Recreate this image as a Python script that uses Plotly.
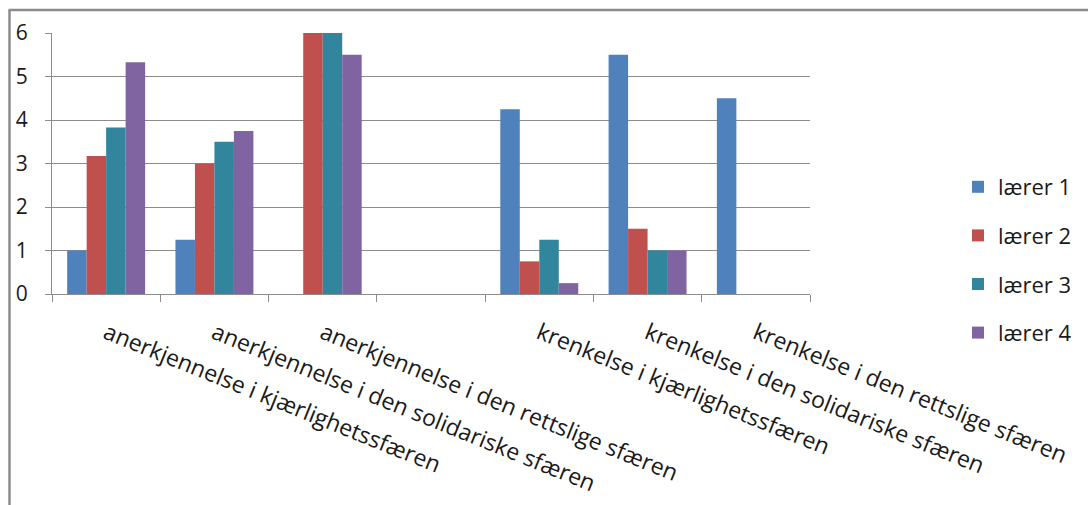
import plotly.graph_objects as go

categories = [
    "anerkjennelse i kjærlighetssfæren",
    "anerkjennelse i den solidariske sfæren",
    "anerkjennelse i den rettslige sfæren",
    " ",
    "krenkelse i kjærlighetssfæren",
    "krenkelse i den solidariske sfæren",
    "krenkelse i den rettslige sfæren",
]
series_names = ["lærer 1", "lærer 2", "lærer 3", "lærer 4"]
laerer1 = [1.0, 1.25, None, None, 4.25, 5.5, 4.5]
laerer2 = [3.17, 3.0, 6.0, None, 0.75, 1.5, None]
laerer3 = [3.83, 3.5, 6.0, None, 1.25, 1.0, None]
laerer4 = [5.33, 3.75, 5.5, None, 0.25, 1.0, None]
series_values = [laerer1, laerer2, laerer3, laerer4]
colors = ["#4F81BD", "#C0504D", "#31859C", "#8064A2"]
y_ticks = [0, 1, 2, 3, 4, 5, 6]

W, H = 1088, 505
ML, MR, MT, MB = 52, 278, 33, 211
FONT = "Open Sans"

fig = go.Figure()
for name, vals, col in zip(series_names, series_values, colors):
    fig.add_trace(go.Bar(
        x=categories, y=vals, name=name, legendgroup=name,
        marker=dict(color=col, line=dict(width=0)),
    ))

pw = W - ML - MR
ph = H - MT - MB
def px2x(p):
    return (p - ML) / pw
def py2y(p):
    return (H - MB - p) / ph

grey = "#8C8C8C"
fig.update_layout(
    width=W, height=H,
    margin=dict(l=ML, r=MR, t=MT, b=MB, pad=0, autoexpand=False),
    paper_bgcolor="white", plot_bgcolor="white",
    barmode="group", bargap=0.28, bargroupgap=0,
    font=dict(family=FONT, size=20, color="#1a1a1a"),
    showlegend=True,
    legend=dict(
        xref="container", yref="container",
        x=958 / W, xanchor="left", y=1 - 166 / H, yanchor="top",
        font=dict(family=FONT, size=22, color="#1a1a1a"),
        tracegroupgap=17, itemwidth=30, bgcolor="rgba(0,0,0,0)",
    ),
    xaxis=dict(
        type="category", categoryorder="array", categoryarray=categories,
        tickangle=22, ticks="outside", tickson="boundaries", ticklen=7,
        tickcolor=grey, showline=True, linecolor=grey, linewidth=1,
        showgrid=False, tickfont=dict(family=FONT, size=23, color="#1a1a1a"),
        ticklabelstandoff=16, automargin=False,
    ),
    yaxis=dict(
        range=[0, 6], tickvals=y_ticks, ticks="outside", ticklen=6,
        tickcolor=grey, showline=True, linecolor=grey, linewidth=1,
        showgrid=True, gridcolor=grey, gridwidth=1, zeroline=False,
        tickfont=dict(family=FONT, size=21, color="#1a1a1a"),
        ticklabelstandoff=13, automargin=False,
    ),
    shapes=[
        dict(type="line", xref="paper", yref="paper",
             x0=px2x(9.5), x1=px2x(9.5), y0=py2y(10), y1=py2y(H + 5),
             line=dict(color=grey, width=2.5)),
        dict(type="line", xref="paper", yref="paper",
             x0=px2x(8.5), x1=px2x(W + 5), y0=py2y(10), y1=py2y(10),
             line=dict(color=grey, width=2.5)),
    ],
)

fig.write_html("out.html")
